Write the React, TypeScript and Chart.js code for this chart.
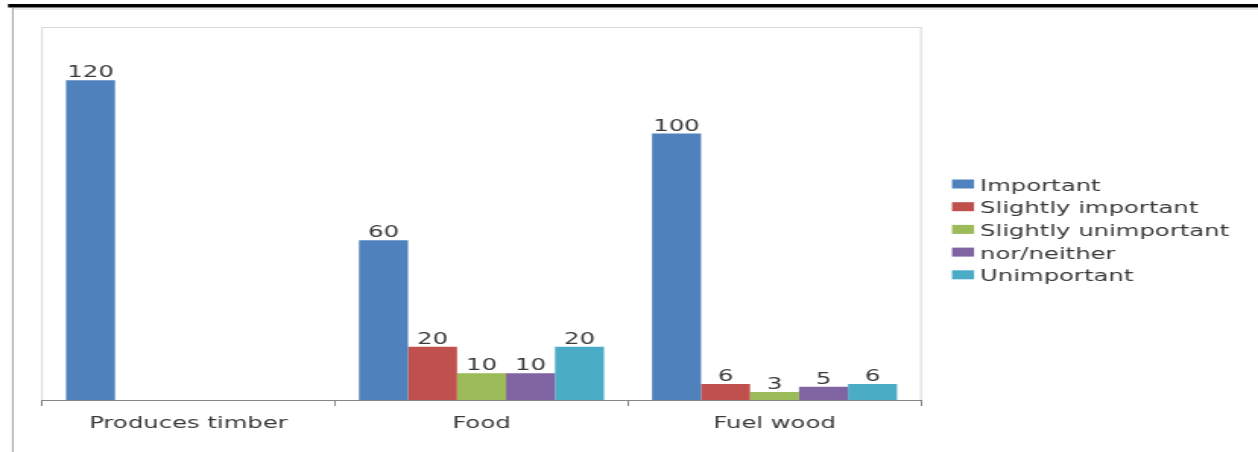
import React, { useEffect, useRef } from "react";
import { Chart, registerables } from "chart.js";

Chart.register(...registerables);

const categories = ["Produces timber", "Food", "Fuel wood"];
const seriesNames = ["Important", "Slightly important", "Slightly unimportant", "nor/neither", "Unimportant"];
const important = [120, 60, 100];
const slightlyImportant = [null, 20, 6];
const slightlyUnimportant = [null, 10, 3];
const norNeither = [null, 10, 5];
const unimportant = [null, 20, 6];
const seriesColors = ["#4F81BD", "#C0504D", "#9BBB59", "#8064A2", "#4BACC6"];

const CANVAS_W = 828;
const CANVAS_H = 452;
const S = 1258 / CANVAS_W; // horizontal stretch of the picture
const FONT = '"DejaVu Sans", Verdana, sans-serif';
const TEXT = "#3a3a3a";

const decorPlugin = {
  id: "decor",
  beforeDraw(chart: any) {
    const { ctx, chartArea: a, width, height } = chart;
    ctx.save();
    ctx.fillStyle = "#ffffff";
    ctx.fillRect(0, 0, width, height);
    ctx.fillStyle = "#000000";
    ctx.fillRect(8 / S, 4, width, 3.5);
    ctx.strokeStyle = "#d4d4d4";
    ctx.lineWidth = 1;
    ctx.beginPath();
    ctx.moveTo(12 / S, 9);
    ctx.lineTo(width, 9);
    ctx.stroke();
    ctx.strokeStyle = "#a0a0a0";
    ctx.lineWidth = 1.5 / S;
    ctx.beginPath();
    ctx.moveTo(12.8 / S, 8);
    ctx.lineTo(12.8 / S, height);
    ctx.stroke();
    ctx.strokeStyle = "#d9d9d9";
    ctx.lineWidth = 1;
    ctx.strokeRect(a.left, a.top + 0.5, a.right - a.left, a.bottom - a.top);
    ctx.restore();
  },
  afterDatasetsDraw(chart: any) {
    const { ctx } = chart;
    ctx.save();
    ctx.font = `16px ${FONT}`;
    ctx.fillStyle = TEXT;
    ctx.textAlign = "center";
    ctx.textBaseline = "alphabetic";
    chart.data.datasets.forEach((ds: any, i: number) => {
      const meta = chart.getDatasetMeta(i);
      meta.data.forEach((bar: any, j: number) => {
        const v = ds.data[j];
        if (v === null || v === undefined) return;
        ctx.fillText(String(v), bar.x, bar.y - 3);
      });
    });
    ctx.restore();
  },
  afterDraw(chart: any) {
    const { ctx } = chart;
    ctx.save();
    ctx.font = `16px ${FONT}`;
    ctx.textAlign = "left";
    ctx.textBaseline = "middle";
    chart.data.datasets.forEach((ds: any, k: number) => {
      const yc = 184 + k * 22.7;
      ctx.fillStyle = ds.backgroundColor;
      ctx.fillRect(952 / S, yc - 4.5, 22 / S, 9);
      ctx.fillStyle = TEXT;
      ctx.fillText(ds.label, 980 / S, yc + 2.5);
    });
    ctx.restore();
  },
};

export default function App() {
  const ref = useRef<HTMLCanvasElement>(null);
  useEffect(() => {
    if (!ref.current) return;
    const seriesData = [important, slightlyImportant, slightlyUnimportant, norNeither, unimportant];
    const chart = new Chart(ref.current, {
      type: "bar",
      data: {
        labels: categories,
        datasets: seriesNames.map((name, i) => ({
          label: name,
          data: seriesData[i],
          backgroundColor: seriesColors[i],
          borderWidth: 0,
          barPercentage: 1,
          categoryPercentage: 245 / 293,
        })),
      },
      options: {
        animation: false,
        responsive: false,
        devicePixelRatio: 1,
        layout: {
          padding: { left: 42 / S, right: CANVAS_W - 921 / S, top: 27, bottom: 0 },
        },
        plugins: {
          legend: { display: false },
          tooltip: { enabled: false },
          title: { display: false },
        },
        scales: {
          x: {
            grid: {
              display: true,
              drawOnChartArea: false,
              drawTicks: true,
              tickLength: 6,
              color: "#868686",
              offset: true,
            },
            border: { display: true, color: "#868686", width: 1 },
            ticks: {
              font: { family: FONT, size: 16 },
              color: TEXT,
              padding: 8,
              maxRotation: 0,
            },
            afterFit: (scale: any) => {
              scale.height = 52;
            },
          },
          y: {
            display: false,
            min: 0,
            max: 140,
          },
        },
      },
      plugins: [decorPlugin],
    });
    return () => chart.destroy();
  }, []);
  return (
    <div style={{ position: "absolute", left: 0, top: 0, width: 1258, height: 452, overflow: "hidden", background: "#fff" }}>
      <canvas
        ref={ref}
        width={CANVAS_W}
        height={CANVAS_H}
        style={{ display: "block", width: "1258px", height: "452px" }}
      />
    </div>
  );
}
